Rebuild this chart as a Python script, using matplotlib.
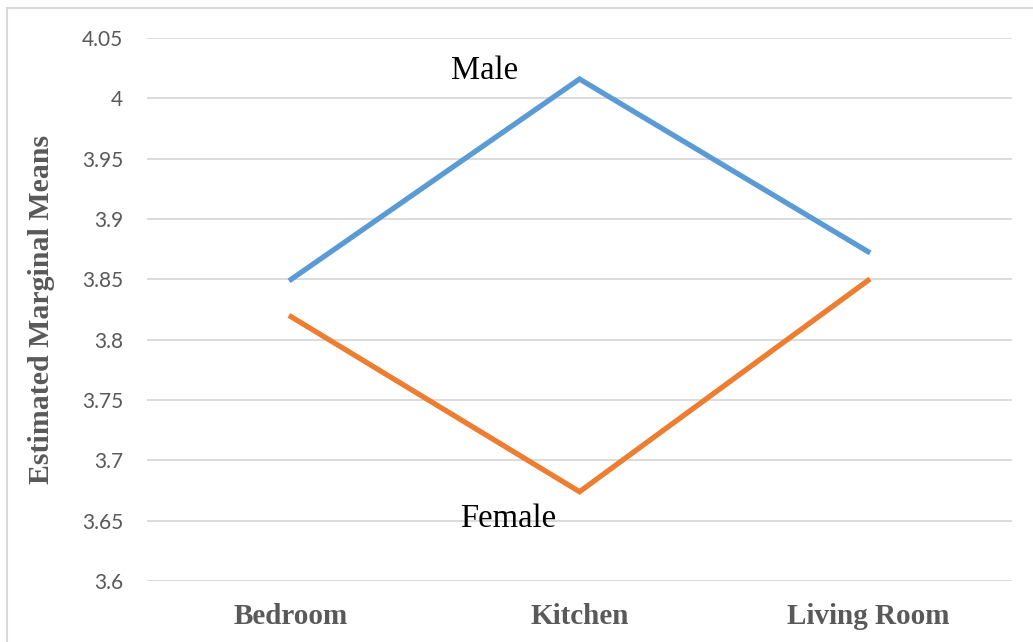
import matplotlib
matplotlib.use("Agg")
import matplotlib.pyplot as plt
from matplotlib.patches import Rectangle

# data
rooms = ["Bedroom", "Kitchen", "Living Room"]
male = [3.850, 4.016, 3.873]
female = [3.819, 3.674, 3.849]
yticks = [3.6, 3.65, 3.7, 3.75, 3.8, 3.85, 3.9, 3.95, 4.0, 4.05]
ytick_labels = ["3.6", "3.65", "3.7", "3.75", "3.8", "3.85", "3.9", "3.95", "4", "4.05"]

grey = "#595959"
grid_col = "#d9d9d9"

fig = plt.figure(figsize=(10.33, 6.42), dpi=100)
ax = fig.add_axes([0.1423, 0.095, 0.8374, 0.8458])

x = range(len(rooms))
ax.plot(x, male, color="#5B9BD5", lw=3.8, solid_joinstyle="miter")
ax.plot(x, female, color="#ED7D31", lw=3.8, solid_joinstyle="miter")

ax.set_xlim(-0.5, 2.5)
ax.set_ylim(3.6, 4.05)
ax.set_yticks(yticks)
ax.set_yticklabels(ytick_labels, fontfamily="Lato", fontsize=15, color=grey)
ax.set_xticks(list(x))
ax.set_xticklabels(rooms, fontfamily="Liberation Serif", fontweight="bold",
                   fontsize=21, color=grey)
ax.tick_params(axis="y", length=0, pad=17)
ax.tick_params(axis="x", length=0, pad=16)
ax.yaxis.grid(True, color=grid_col, lw=1.3)
ax.set_axisbelow(True)
for s in ax.spines.values():
    s.set_visible(False)

ax.set_ylabel("Estimated Marginal Means", fontfamily="Liberation Serif",
              fontweight="bold", fontsize=21.5, color=grey)
ax.yaxis.set_label_coords(-0.106, 0.5)

# series labels
ax.text(0.669, 4.0158, "Male", fontfamily="Liberation Serif", fontsize=23.5,
        ha="center", va="baseline", color="black")
ax.text(0.752, 3.645, "Female", fontfamily="Liberation Serif", fontsize=23.5,
        ha="center", va="baseline", color="black")

# chart frame
fig.patches.append(Rectangle((7 / 1033, -0.1), 1.0, 1.1 - 8 / 642,
                             transform=fig.transFigure, fill=False,
                             edgecolor=grid_col, lw=1.5))

fig.savefig("out.png", dpi=100, facecolor="white")
